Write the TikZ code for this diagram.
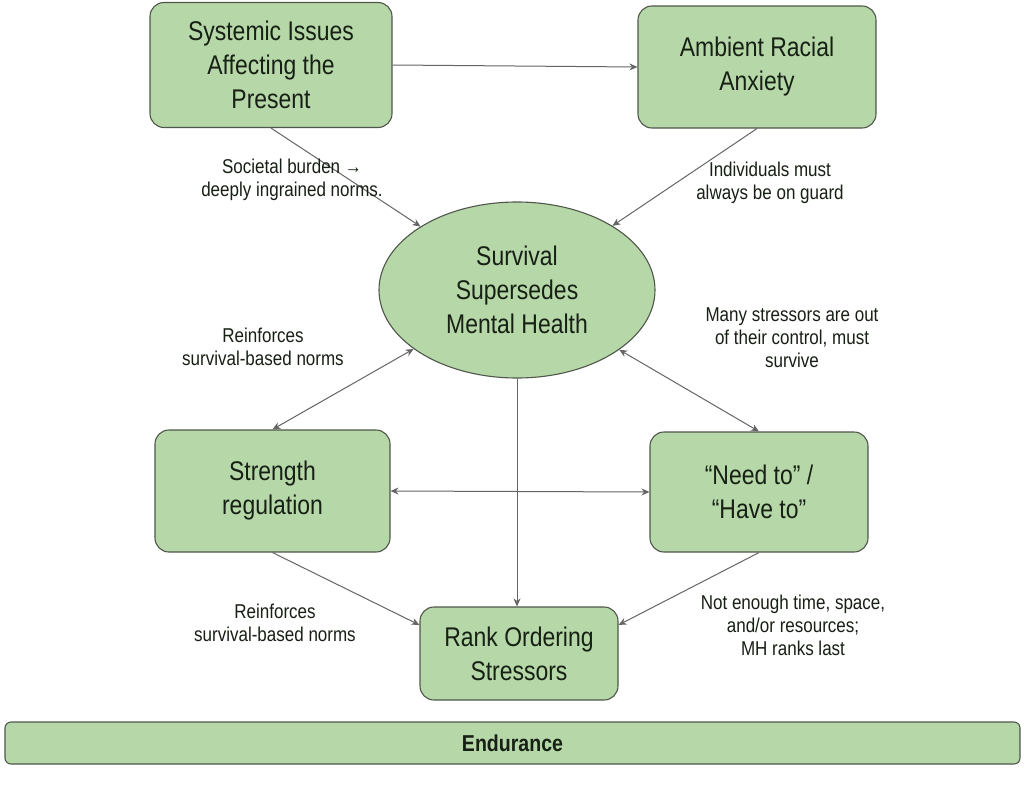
\documentclass[tikz,border=0pt]{standalone}
\usepackage{fontspec}
\setmainfont{Liberation Sans}[FakeStretch=0.85]
\usetikzlibrary{arrows.meta,shapes.geometric,calc}
\definecolor{boxfill}{HTML}{B6D7A8}
\definecolor{boxline}{HTML}{4F574B}
\definecolor{linkcol}{HTML}{656565}
\definecolor{inktext}{HTML}{172014}
\tikzset{
  stage/.style={draw=boxline, fill=boxfill, line width=1.1pt, rounded corners=14pt,
    align=center, text=inktext, inner sep=0pt,
    font=\fontsize{27}{34}\selectfont},
  hub/.style={ellipse, draw=boxline, fill=boxfill, line width=1.1pt,
    align=center, text=inktext, inner sep=0pt,
    font=\fontsize{27}{34}\selectfont},
  note/.style={align=center, text=inktext, font=\fontsize{20}{23}\selectfont},
  link/.style={draw=linkcol, line width=1pt, -{Stealth[length=8pt,width=7pt]}},
  twoway/.style={draw=linkcol, line width=1pt, {Stealth[length=8pt,width=7pt]}-{Stealth[length=8pt,width=7pt]}},
}
\begin{document}
\begin{tikzpicture}[x=1pt,y=-1pt]
\useasboundingbox (0,0) rectangle (1025,787);
\fill[white] (0,0) rectangle (1025,787);

% boxes
\node[stage, minimum width=242pt, minimum height=125pt] (sys) at (271,65)
  {Systemic Issues\\Affecting the\\Present};
\node[stage, minimum width=238pt, minimum height=122pt] (amb) at (757,67)
  {Ambient Racial\\Anxiety};
\node[hub, minimum width=276pt, minimum height=176pt] (hub) at (517,290)
  {Survival\\Supersedes\\Mental Health};
\node[stage, minimum width=235pt, minimum height=122pt] (str) at (272.5,491)
  {Strength\\regulation};
\node[stage, minimum width=218pt, minimum height=120pt] (need) at (759,492)
  {“Need to” /\\“Have to”};
\node[stage, minimum width=198pt, minimum height=93pt] (rank) at (519,653.5)
  {Rank Ordering\\Stressors};
\node[stage, rounded corners=6pt, minimum width=1015pt, minimum height=42pt,
  font=\fontsize{23}{27}\selectfont\bfseries] (end) at (512.5,743) {Endurance};

% connectors
\draw[link] (sys.east) -- (amb.west);
\draw[link] (sys.south) -- (hub);
\draw[link] (amb.south) -- (hub);
\draw[twoway] (str.north) -- (hub);
\draw[twoway] (need.north) -- (hub);
\draw[twoway] (str.east) -- (need.west);
\draw[link] (hub.south) -- (hub.south |- rank.north);
\draw[link] (str.south) -- (rank.164);
\draw[link] (need.south) -- (rank.16);

% labels
\node[note] (l1) at (292,180) {Societal burden →\\deeply ingrained norms.};
\node[note] (l2) at (770,183) {Individuals must\\always be on guard};
\node[note] (l3) at (263,347) {Reinforces\\survival-based norms};
\node[note] (l4) at (792,338) {Many stressors are out\\of their control, must\\survive};
\node[note] (l5) at (275,623) {Reinforces\\survival-based norms};
\node[note] (l6) at (793,625) {Not enough time, space,\\and/or resources;\\MH ranks last};
\end{tikzpicture}
\end{document}
